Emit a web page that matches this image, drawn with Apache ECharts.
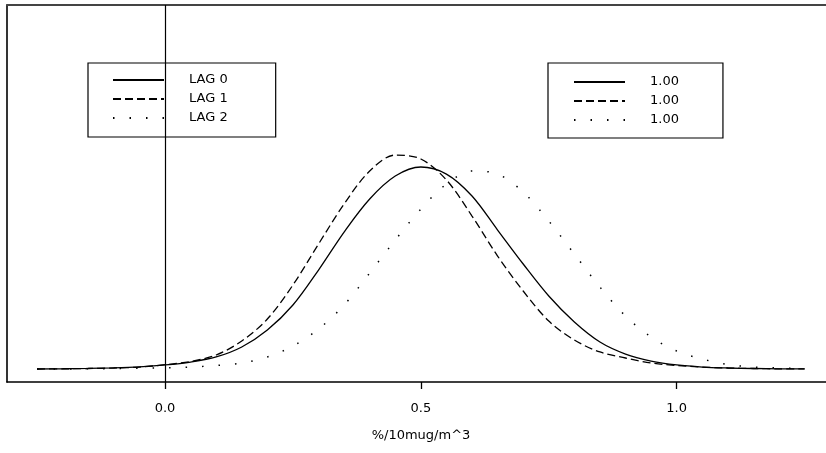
<!DOCTYPE html>
<html>
<head>
<meta charset="utf-8">
<script src="https://cdn.jsdelivr.net/npm/echarts@6/dist/echarts.min.js"></script>
<style>
html,body{margin:0;padding:0;background:#fff;}
#chart{width:826px;height:453px;}
</style>
</head>
<body>
<div id="chart"></div>
<script>
// ---- data ----
const xValues = [-0.25,-0.2,-0.15,-0.1,-0.05,0,0.05,0.1,0.15,0.2,0.25,0.3,0.35,0.4,0.45,0.5,0.55,0.6,0.65,0.7,0.75,0.8,0.85,0.9,0.95,1.0,1.05,1.1,1.15,1.2,1.25];
const lag0 = [0,0.003,0.007,0.014,0.026,0.047,0.081,0.14,0.256,0.453,0.744,1.151,1.593,1.977,2.244,2.349,2.267,2.012,1.616,1.221,0.849,0.547,0.314,0.174,0.093,0.047,0.023,0.012,0.006,0.002,0.001];
const lag1 = [0,0.002,0.006,0.012,0.023,0.05,0.088,0.163,0.326,0.581,0.977,1.453,1.919,2.302,2.488,2.442,2.198,1.779,1.314,0.907,0.558,0.337,0.198,0.128,0.07,0.041,0.023,0.012,0.006,0.002,0.001];
const lag2 = [0,0.001,0.002,0.005,0.008,0.014,0.023,0.041,0.07,0.14,0.267,0.465,0.744,1.116,1.5,1.86,2.151,2.302,2.267,2.058,1.721,1.337,0.953,0.616,0.372,0.209,0.116,0.052,0.023,0.012,0.006];
const seriesNames = ['LAG 0','LAG 1','LAG 2'];
const legendValues = ['1.00','1.00','1.00'];
const tickValues = [0, 0.5, 1.0];
const tickLabels = ['0.0','0.5','1.0'];
const xTitle = '%/10mug/m^3';

const FONT = 'DejaVu Sans';
const pairs = (ys) => xValues.map((x, i) => [x, ys[i]]);
const dashStyles = ['solid', [8, 4], [1.5, 15]];
const allData = [lag0, lag1, lag2];

const chart = echarts.init(document.getElementById('chart'), null, {renderer: 'canvas'});

const legendBase = {
  orient: 'vertical',
  top: 63,
  itemWidth: 51,
  itemHeight: 12,
  itemGap: 5,
  borderColor: '#000',
  borderWidth: 1.2,
  borderRadius: 0,
  backgroundColor: '#fff',
  selectedMode: false,
  itemStyle: {opacity: 0},
  textStyle: {fontFamily: FONT, fontSize: 13, color: '#000', padding: [0,0,0,20], lineHeight: 14},
  data: seriesNames
};

chart.setOption({
  animation: false,
  backgroundColor: '#fff',
  grid: {left: 7, right: 0, top: 5, bottom: 71, containLabel: false},
  legend: [
    Object.assign({}, legendBase, {left: 88, padding: [10, 48, 12, 24]}),
    Object.assign({}, legendBase, {left: 548, padding: [12, 44, 11, 25],
      formatter: (name) => legendValues[seriesNames.indexOf(name)]})
  ],
  xAxis: [{
    type: 'value',
    min: -0.3088,
    max: 1.2918,
    position: 'bottom',
    splitLine: {show: false},
    axisLine: {show: true, onZero: false, lineStyle: {color: '#000', width: 1.6}},
    axisTick: {show: true, customValues: tickValues, length: 7, lineStyle: {color: '#000', width: 1.3}},
    axisLabel: {show: true, customValues: tickValues, margin: 20,
      fontFamily: FONT, fontSize: 13, color: '#000',
      formatter: (v) => tickLabels[tickValues.indexOf(v)] ?? v.toFixed(1)},
    name: xTitle,
    nameLocation: 'middle',
    nameGap: 47,
    nameTextStyle: {fontFamily: FONT, fontSize: 13, color: '#000', padding: [0,0,0,9]}
  }, {
    type: 'value',
    min: -0.3088,
    max: 1.2918,
    position: 'top',
    splitLine: {show: false},
    axisLine: {show: true, onZero: false, lineStyle: {color: '#444', width: 2}},
    axisTick: {show: false},
    axisLabel: {show: false}
  }],
  yAxis: {
    type: 'value',
    min: -0.151,
    max: 4.233,
    position: 'left',
    splitLine: {show: false},
    axisLine: {show: true, onZero: false, lineStyle: {color: '#000', width: 1.6}},
    axisTick: {show: false},
    axisLabel: {show: false}
  },
  series: seriesNames.map((name, i) => {
    const s = {
      name: name,
      type: 'line',
      xAxisIndex: 0,
      data: pairs(allData[i]),
      smooth: 0.33,
      symbol: 'none',
      lineStyle: {color: '#000', width: i === 2 ? 1.5 : 1.3, type: dashStyles[i]},
      itemStyle: {color: '#000'},
      z: 3
    };
    if (i === 0) {
      s.markLine = {
        silent: true,
        symbol: 'none',
        label: {show: false},
        lineStyle: {color: '#000', width: 1.2, type: 'solid'},
        data: [{xAxis: 0}]
      };
    }
    return s;
  })
});
</script>
</body>
</html>
